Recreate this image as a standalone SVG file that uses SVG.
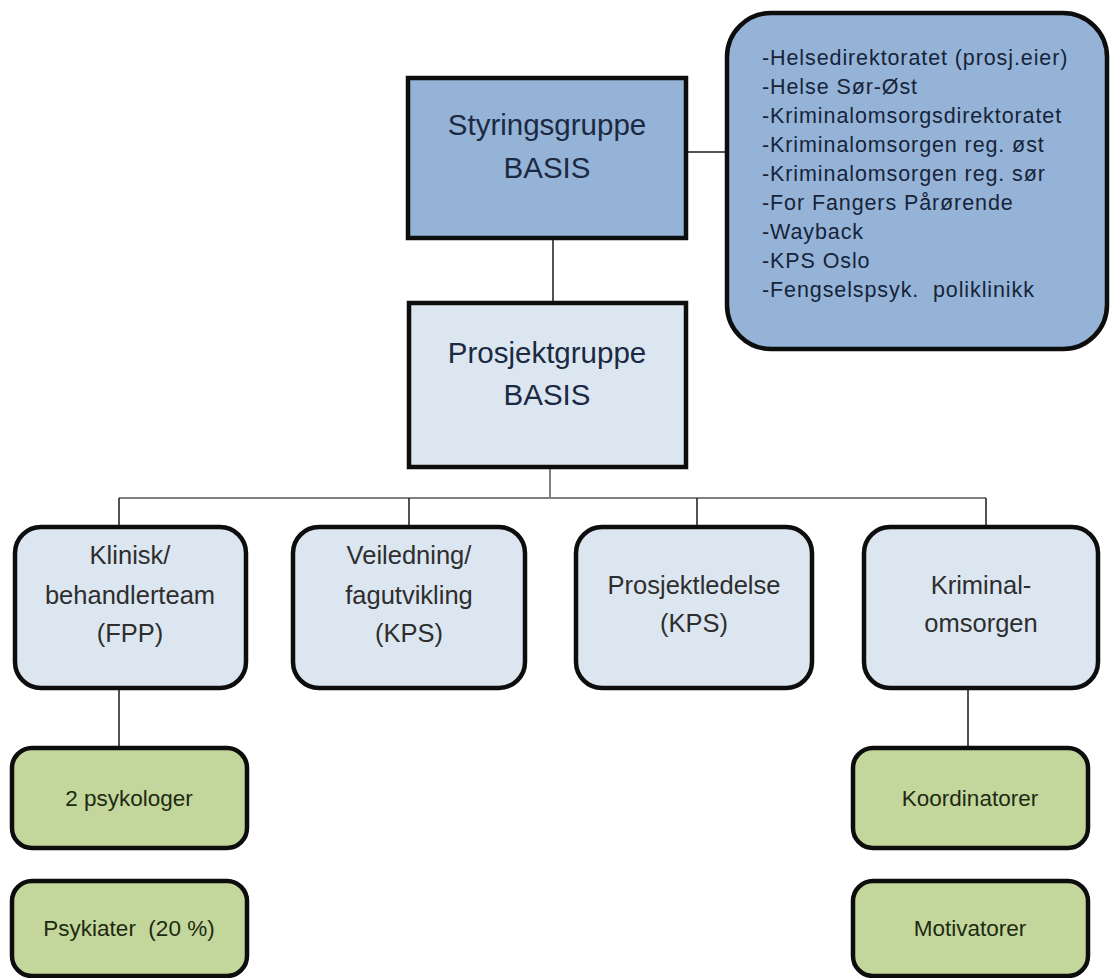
<svg xmlns="http://www.w3.org/2000/svg" width="1110" height="978" viewBox="0 0 1110 978">
<style>
text{font-family:"Liberation Sans",Arial,sans-serif;text-anchor:middle;white-space:pre}
.box{stroke:#0d0d0d;stroke-width:4.5}
.dark{fill:#95b3d7}
.light{fill:#dce6f1}
.green{fill:#c3d69b}
.t1{font-size:29.5px;fill:#1b2a42}
.t2{font-size:25.5px;fill:#2e2e2e}
.t3{font-size:22.5px;fill:#1e2a12}
.list{font-size:21.5px;fill:#16243a;text-anchor:start;letter-spacing:0.9px}
.c{stroke:#1a1a1a;stroke-width:1.5;fill:none}
.cg{stroke:#808080;stroke-width:2;fill:none}
</style>
<rect width="1110" height="978" fill="#fff"/>
<g id="connectors">
<line class="c" x1="686" y1="152" x2="752" y2="152"/>
<line class="c" x1="553" y1="238" x2="553" y2="303"/>
<line class="cg" x1="550" y1="467" x2="550" y2="498"/>
<line class="cg" x1="119" y1="498" x2="986" y2="498"/>
<line class="c" x1="119" y1="498" x2="119" y2="527"/>
<line class="c" x1="409" y1="498" x2="409" y2="527"/>
<line class="c" x1="697" y1="498" x2="697" y2="527"/>
<line class="c" x1="986" y1="498" x2="986" y2="527"/>
<line class="c" x1="119" y1="688" x2="119" y2="748"/>
<line class="c" x1="968" y1="688" x2="968" y2="748"/>
</g>
<g id="styringsgruppe">
<rect class="box dark" x="408" y="78" width="278" height="160"/>
<text class="t1" x="547" y="135">Styringsgruppe</text>
<text class="t1" x="547" y="178">BASIS</text>
</g>
<g id="medlemmer">
<rect class="box dark" x="727" y="13" width="380" height="336" rx="44"/>
<text class="list" x="762" y="65">-Helsedirektoratet (prosj.eier)</text>
<text class="list" x="762" y="94">-Helse Sør-Øst</text>
<text class="list" x="762" y="123">-Kriminalomsorgsdirektoratet</text>
<text class="list" x="762" y="152">-Kriminalomsorgen reg. øst</text>
<text class="list" x="762" y="181">-Kriminalomsorgen reg. sør</text>
<text class="list" x="762" y="210">-For Fangers Pårørende</text>
<text class="list" x="762" y="239">-Wayback</text>
<text class="list" x="762" y="268">-KPS Oslo</text>
<text class="list" x="762" y="297">-Fengselspsyk.  poliklinikk</text>
</g>
<g id="prosjektgruppe">
<rect class="box light" x="409" y="303" width="277" height="164"/>
<text class="t1" x="547" y="363">Prosjektgruppe</text>
<text class="t1" x="547" y="405">BASIS</text>
</g>
<g id="klinisk">
<rect class="box light" x="15" y="527" width="231" height="161" rx="26"/>
<text class="t2" x="130" y="564">Klinisk/</text>
<text class="t2" x="130" y="604">behandlerteam</text>
<text class="t2" x="130" y="642">(FPP)</text>
</g>
<g id="veiledning">
<rect class="box light" x="293" y="527" width="232" height="161" rx="26"/>
<text class="t2" x="409" y="564">Veiledning/</text>
<text class="t2" x="409" y="604">fagutvikling</text>
<text class="t2" x="409" y="642">(KPS)</text>
</g>
<g id="prosjektledelse">
<rect class="box light" x="576" y="527" width="236" height="161" rx="26"/>
<text class="t2" x="694" y="594">Prosjektledelse</text>
<text class="t2" x="694" y="632">(KPS)</text>
</g>
<g id="kriminalomsorgen">
<rect class="box light" x="864" y="527" width="234" height="161" rx="26"/>
<text class="t2" x="981" y="594">Kriminal-</text>
<text class="t2" x="981" y="632">omsorgen</text>
</g>
<g id="psykologer">
<rect class="box green" x="12" y="748" width="235" height="100" rx="20"/>
<text class="t3" x="129" y="806">2 psykologer</text>
</g>
<g id="psykiater">
<rect class="box green" x="12" y="881" width="235" height="95" rx="20"/>
<text class="t3" x="129" y="936">Psykiater  (20 %)</text>
</g>
<g id="koordinatorer">
<rect class="box green" x="853" y="748" width="235" height="100" rx="20"/>
<text class="t3" x="970" y="806">Koordinatorer</text>
</g>
<g id="motivatorer">
<rect class="box green" x="853" y="881" width="235" height="95" rx="20"/>
<text class="t3" x="970" y="936">Motivatorer</text>
</g>
</svg>
